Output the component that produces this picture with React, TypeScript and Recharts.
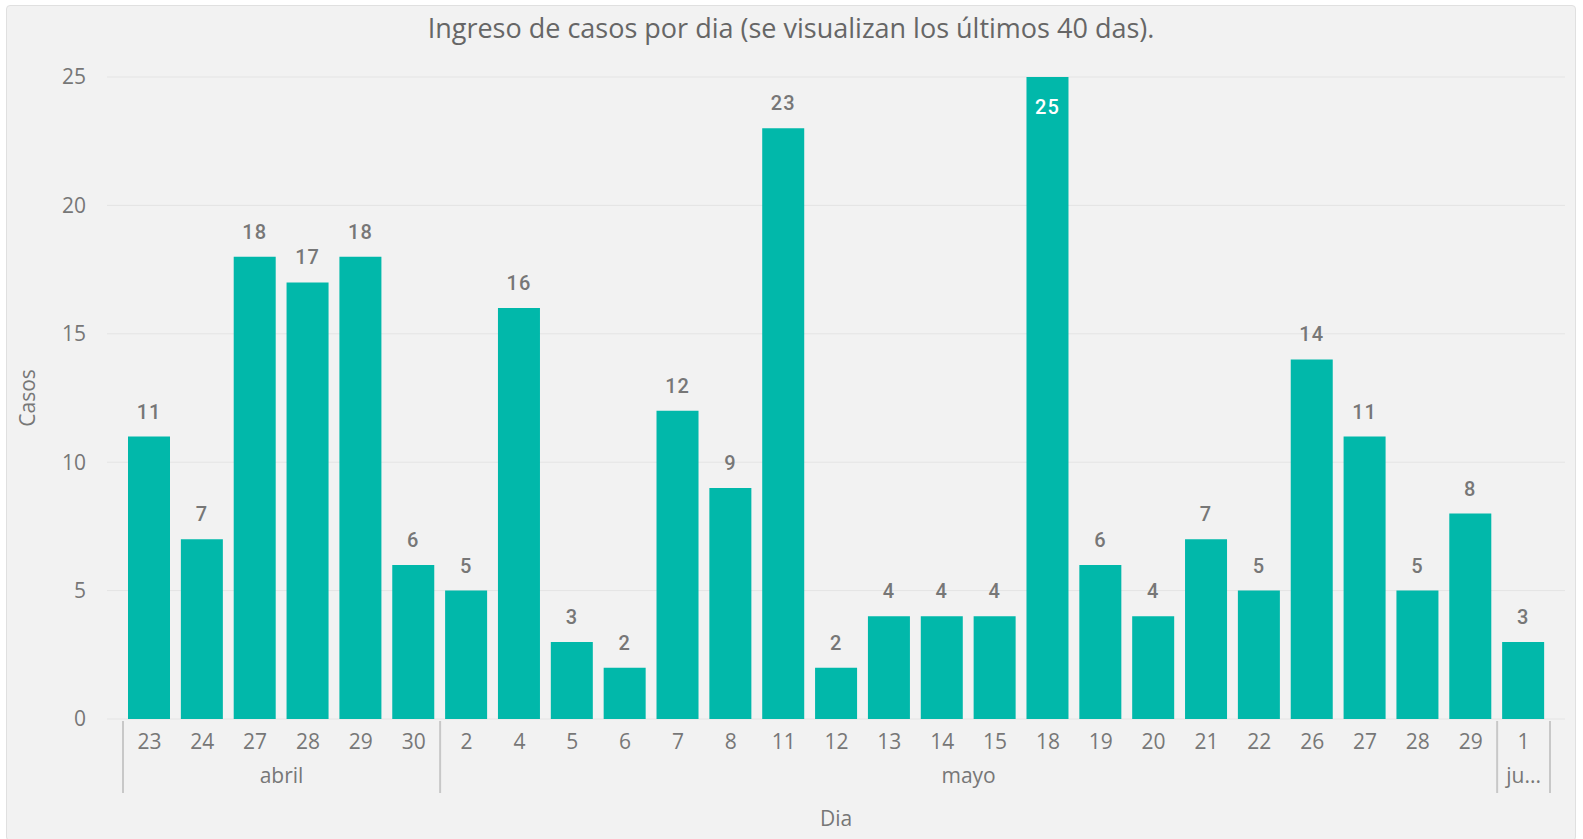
import { Bar, BarChart, CartesianGrid, LabelList, XAxis, YAxis } from "recharts";

const dias = ["23", "24", "27", "28", "29", "30", "2", "4", "5", "6", "7", "8", "11", "12", "13", "14", "15", "18", "19", "20", "21", "22", "26", "27", "28", "29", "1"];
const meses = [
  "abril", "abril", "abril", "abril", "abril", "abril",
  "mayo", "mayo", "mayo", "mayo", "mayo", "mayo", "mayo", "mayo", "mayo", "mayo",
  "mayo", "mayo", "mayo", "mayo", "mayo", "mayo", "mayo", "mayo", "mayo", "mayo",
  "junio",
];
const casos = [11, 7, 18, 17, 18, 6, 5, 16, 3, 2, 12, 9, 23, 2, 4, 4, 4, 25, 6, 4, 7, 5, 14, 11, 5, 8, 3];
const yTicks = [0, 5, 10, 15, 20, 25];

const data = dias.map((d, i) => ({ key: `${meses[i]}-${d}`, dia: d, mes: meses[i], casos: casos[i] }));

const FONT = "'Open Sans', sans-serif";
const GRAY = "#777777";
const TEAL = "#01B8AA";

function DayTick(props: any) {
  const { x, y, payload } = props;
  const i = payload.index;
  const half = payload.offset ?? 26.4;
  const mes = meses[i];
  const isFirst = i === 0 || meses[i - 1] !== mes;
  const isLast = i === meses.length - 1;
  let count = 0;
  if (isFirst) {
    for (let j = i; j < meses.length && meses[j] === mes; j++) count++;
  }
  const start = x - half;
  const label = count === 1 ? mes.slice(0, 2) + "..." : mes;
  return (
    <g>
      <text x={x} y={y + 23} dy="0.35em" textAnchor="middle" fill={GRAY} fontSize={21} fontFamily={FONT}>
        {dias[i]}
      </text>
      {isFirst && (
        <>
          <line x1={start} x2={start} y1={y + 2} y2={y + 74} stroke="#c8c8c8" strokeWidth={2} />
          <text x={start + count * half} y={y + 58} dy="0.3em" textAnchor="middle" fill={GRAY} fontSize={21} fontFamily={FONT}>
            {label}
          </text>
        </>
      )}
      {isLast && <line x1={x + half} x2={x + half} y1={y + 2} y2={y + 74} stroke="#c8c8c8" strokeWidth={2} />}
    </g>
  );
}

function ValueLabel(props: any) {
  const { x, y, width, value } = props;
  const inside = value >= yTicks[yTicks.length - 1];
  return (
    <text
      x={x + width / 2}
      y={inside ? y + 30 : y - 25}
      dy="0.35em"
      textAnchor="middle"
      fill={inside ? "#ffffff" : GRAY}
      fontSize={20}
      fontWeight={500}
      letterSpacing={1}
      fontFamily="Roboto, sans-serif"
    >
      {value}
    </text>
  );
}

export default function App() {
  return (
    <div style={{ position: "absolute", left: 0, top: 0, width: 1583, height: 839, background: "#ffffff" }}>
      <div
        style={{
          position: "absolute",
          left: 6,
          top: 5,
          width: 1568,
          height: 834,
          background: "#f2f2f2",
          border: "1px solid #e0e0e0",
          borderRadius: 4,
        }}
      />
      <div
        style={{
          position: "absolute",
          left: 6,
          top: 11,
          width: 1570,
          lineHeight: "34px",
          textAlign: "center",
          fontFamily: FONT,
          fontSize: 27,
          color: "#666666",
        }}
      >
        Ingreso de casos por dia (se visualizan los últimos 40 das).
      </div>
      <div style={{ position: "absolute", left: 0, top: 0 }}>
        <BarChart width={1583} height={839} data={data} margin={{ top: 77, right: 18, left: 10, bottom: 10 }}>
          <CartesianGrid vertical={false} stroke="#e4e4e4" />
          <XAxis
            dataKey="key"
            interval={0}
            axisLine={false}
            tickLine={false}
            tickSize={0}
            tickMargin={0}
            height={110}
            padding={{ left: 16, right: 15 }}
            tick={<DayTick />}
            label={{ value: "Dia", position: "insideBottom", offset: 3, fill: GRAY, fontSize: 21, fontFamily: FONT }}
          />
          <YAxis
            domain={[0, 25]}
            ticks={yTicks}
            axisLine={false}
            tickLine={false}
            tickSize={0}
            tickMargin={21}
            width={97}
            tick={{ fill: GRAY, fontSize: 21, fontFamily: FONT }}
            label={{
              value: "Casos",
              angle: -90,
              position: "insideLeft",
              offset: 18,
              fill: GRAY,
              fontSize: 21,
              fontFamily: FONT,
              style: { textAnchor: "middle" },
            }}
          />
          <Bar dataKey="casos" fill={TEAL} barSize={42} isAnimationActive={false}>
            <LabelList dataKey="casos" content={<ValueLabel />} />
          </Bar>
        </BarChart>
      </div>
    </div>
  );
}
